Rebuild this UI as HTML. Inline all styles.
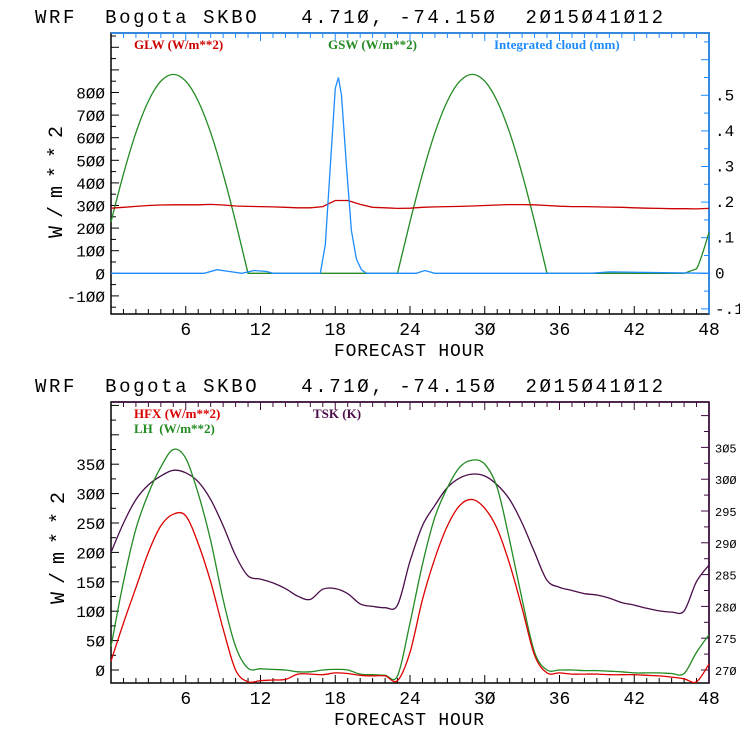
<!DOCTYPE html>
<html><head><meta charset="utf-8">
<style>
html,body{margin:0;padding:0;background:#fff;}
svg{display:block;}
text{font-family:"Liberation Mono",monospace;white-space:pre;}
.leg{font-family:"Liberation Serif",serif;font-weight:bold;font-size:13px;}
</style></head>
<body>
<svg id="chart" width="740" height="740" viewBox="0 0 740 740" xmlns="http://www.w3.org/2000/svg"></svg>
<script>
// ---- Data ----
const hours = [0,1,2,3,4,5,6,7,8,9,10,11,12,13,14,15,16,17,18,19,20,21,22,23,24,25,26,27,28,29,30,31,32,33,34,35,36,37,38,39,40,41,42,43,44,45,46,47,48];
const gsw = [228,440,622,762,850,880,850,762,622,440,228,0,0,0,0,0,0,0,0,0,0,0,0,0,228,440,622,762,850,880,850,762,622,440,228,0,0,0,0,0,0,0,0,0,0,0,0,20,180];
const glw = [288,292,296,300,302,303,303,303,305,302,298,296,295,294,292,290,290,295,322,322,305,292,290,287,288,292,294,295,296,298,300,302,304,304,303,300,297,295,295,294,293,292,290,288,287,286,286,285,287];
const cloudHours = [0,7.5,8.5,9.5,10.5,11.5,12.5,13,16.8,17.2,17.6,18,18.25,18.5,18.9,19.3,19.7,20.1,20.5,24.5,25.2,26,38.5,40,48];
const cloud = [0,0,0.01,0.005,0,0.008,0.005,0,0,0.08,0.3,0.52,0.55,0.5,0.3,0.12,0.04,0.01,0,0,0.008,0,0,0.004,0];
const hfx = [15,80,140,200,245,265,262,215,150,70,0,-20,-18,-17,-16,-7,-7,-8,-5,-6,-9,-10,-10,-18,30,120,190,245,280,290,275,240,180,105,25,-5,-5,-7,-7,-7,-8,-8,-8,-9,-10,-12,-15,-20,10];
const lh = [40,150,240,300,345,375,360,300,220,120,40,3,2,1,0,-3,-3,0,1,0,-7,-8,-9,-10,80,180,260,310,345,357,350,310,220,120,30,0,0,0,-1,-1,-2,-3,-5,-5,-5,-6,-6,30,60];
const tsk = [288.5,293.1,296.8,299.1,300.5,301.4,301,299.6,296.8,292.7,288,284.8,284.3,283.7,282.8,281.6,281.1,282.7,282.8,282,280.4,280,279.8,280.2,287.1,292.7,295.9,298.7,300.2,300.8,300.5,299.1,296.8,293.1,288.5,284.1,283,282.5,282,281.8,281.3,280.6,280.2,279.7,279.3,279.1,279.3,283.9,286.5];
const xTicks = [6,12,18,24,30,36,42,48];
const topLeftTicks = [-100,0,100,200,300,400,500,600,700,800];
const topRightTicks = [-0.1,0,0.1,0.2,0.3,0.4,0.5];
const topRightLabels = ["-.1","0",".1",".2",".3",".4",".5"];
const botLeftTicks = [0,50,100,150,200,250,300,350];
const botRightTicks = [270,275,280,285,290,295,300,305];

const svg = document.getElementById('chart');
const NS = 'http://www.w3.org/2000/svg';
function mk(tag, attrs, parent){const e=document.createElementNS(NS,tag);for(const k in attrs)e.setAttribute(k,attrs[k]);(parent||svg).appendChild(e);return e;}
function txt(s,attrs,parent){const e=mk('text',attrs,parent);e.textContent=s;return e;}

const L=111,R=709;
const xs = h => L + (R-L)*h/48;

function panel(cfg){
  const g = mk('g',{});
  
  
  const t = txt('WRF  Bogota SKBO   4.710, -74.150  2015041012'.replace(/0/g,'Ø'),{x:35,y:cfg.top-10,'font-size':'19px',fill:'#000',textLength:628,lengthAdjust:'spacing'},g);
  
  
  const fr = mk('rect',{x:L,y:cfg.top,width:R-L,height:cfg.bot-cfg.top,fill:'none',stroke:'#000','stroke-width':1.5},g);
  
  
  mk('line',{x1:R,y1:cfg.top,x2:R,y2:cfg.bot,stroke:cfg.rightColor,'stroke-width':1.5},g);
  mk('line',{x1:L,y1:cfg.top,x2:R,y2:cfg.top,stroke:cfg.rightColor,'stroke-width':1.5},g);
  for(let h=1;h<48;h++){
    const big = h%6===0;
    mk('line',{x1:xs(h),y1:cfg.bot,x2:xs(h),y2:cfg.bot-(big?8:5),stroke:'#000'},g);
    mk('line',{x1:xs(h),y1:cfg.top,x2:xs(h),y2:cfg.top+(big?8:5),stroke:cfg.rightColor},g);
  }
  xTicks.forEach(h=>{const e=txt(String(h).replace(/0/g,'Ø'),{x:xs(h),y:cfg.bot+21,'font-size':'18px','text-anchor':'middle'},g);
    });
  const xt=txt('FORECAST HOUR',{x:409,y:cfg.bot+42,'font-size':'18px','text-anchor':'middle',textLength:150,lengthAdjust:'spacing'},g);
  
  const yt=txt('W/m**2',{x:0,y:0,'font-size':'20px','text-anchor':'middle',textLength:112,lengthAdjust:'spacing',transform:`translate(${cfg.ytx},${cfg.ymid}) rotate(-90)`},g);
  
  for(let v=cfg.lMinorStart; cfg.ly(v)>=cfg.top; v+=cfg.lMinor){
    const y=cfg.ly(v); if(y>cfg.bot) continue;
    const big = Math.abs(v % cfg.lMajor)<1e-6;
    mk('line',{x1:L,y1:y,x2:L+(big?8:5),y2:y,stroke:'#000'},g);
  }
  cfg.lTicks.forEach(v=>{const e=txt(String(v).replace(/0/g,'Ø'),{x:L-6,y:cfg.ly(v)+6,'font-size':'16px','text-anchor':'end'},g);
    });
  for(let v=cfg.rMinorStart; cfg.ry(v)>=cfg.top; v+=cfg.rMinor){
    const y=cfg.ry(v); if(y>cfg.bot+0.5) continue;
    const k=Math.round((v-cfg.rMinorStart)/cfg.rMinor);
    mk('line',{x1:R,y1:y,x2:R-(k%2===0?8:5),y2:y,stroke:cfg.rightColor},g);
  }
  cfg.rTicks.forEach((v,i)=>{const e=txt(cfg.rLabels[i],{x:R+6,y:cfg.ry(v)+5,'font-size':cfg.rFont,'text-anchor':'start'},g);
    });
  return g;
}
function line(g, xsArr, ys, yfn, color, name, smooth, clampY){
  const P = xsArr.map((h,i)=>[xs(h), yfn(ys[i])]);
  const cl = y => (clampY!==undefined ? Math.min(y, clampY) : y);
  let d = 'M'+P[0][0].toFixed(1)+','+P[0][1].toFixed(1);
  for(let i=0;i<P.length-1;i++){
    if(!smooth){ d+=' L'+P[i+1][0].toFixed(1)+','+P[i+1][1].toFixed(1); continue; }
    const p0=P[Math.max(0,i-1)],p1=P[i],p2=P[i+1],p3=P[Math.min(P.length-1,i+2)];
    let c1=[p1[0]+(p2[0]-p0[0])/6,cl(p1[1]+(p2[1]-p0[1])/6)];
    let c2=[p2[0]-(p3[0]-p1[0])/6,cl(p2[1]-(p3[1]-p1[1])/6)];
    if(clampY!==undefined && (p1[1]>=clampY-0.01 || p2[1]>=clampY-0.01)){ c1=[p1[0]+(p2[0]-p1[0])/3,p1[1]+(p2[1]-p1[1])/3]; c2=[p2[0]-(p2[0]-p1[0])/3,p2[1]-(p2[1]-p1[1])/3]; }
    d+=' C'+c1[0].toFixed(1)+','+c1[1].toFixed(1)+' '+c2[0].toFixed(1)+','+c2[1].toFixed(1)+' '+p2[0].toFixed(1)+','+p2[1].toFixed(1);
  }
  const p = mk('path',{d:d,fill:'none',stroke:color,'stroke-width':1.3},g);
  
  
}
function legend(g,s,x,y,color,name){const e=txt(s,{x:x,y:y,fill:color,class:'leg'},g);
  }

// Top panel
const tTop=33,tBot=314;
const tly = v => 273.3 - v*0.2260;
const try_ = v => 273.3 - v*356;
const g1 = panel({name:'radiation-panel',top:tTop,bot:tBot,rightColor:'#1e8cff',ly:tly,ry:try_,
  lTicks:topLeftTicks,lMinor:50,lMajor:100,lMinorStart:-150,rTicks:topRightTicks,rLabels:topRightLabels,
  rMinor:0.05,rMinorStart:-0.1,rFont:'16px',ytx:62,ymid:182});
line(g1,hours,gsw,tly,'#228b22','gsw-line',true,tly(0));
line(g1,hours,glw,tly,'#cc0000','glw-line',false);
line(g1,cloudHours,cloud,try_,'#1e8cff','cloud-line',false);
legend(g1,'GLW (W/m**2)',134,49,'#cc0000','legend-glw');
legend(g1,'GSW (W/m**2)',328,49,'#228b22','legend-gsw');
legend(g1,'Integrated cloud (mm)',494,49,'#1e8cff','legend-cloud');

// Bottom panel
const bTop=402,bBot=683;
const bly = v => 670 - v*0.588;
const bry = v => 670 - (v-270)*6.36;
const g2 = panel({name:'flux-panel',top:bTop,bot:bBot,rightColor:'#3d0a3d',ly:bly,ry:bry,
  lTicks:botLeftTicks,lMinor:25,lMajor:50,lMinorStart:0,rTicks:botRightTicks,rLabels:botRightTicks.map(v=>String(v).replace(/0/g,'Ø')),
  rMinor:2.5,rMinorStart:270,rFont:'12px',ytx:64,ymid:548});
line(g2,hours,tsk,bry,'#4b0e4b','tsk-line',true);
line(g2,hours,lh,bly,'#228b22','lh-line',true);
line(g2,hours,hfx,bly,'#dd0000','hfx-line',true);
legend(g2,'HFX (W/m**2)',134,418,'#dd0000','legend-hfx');
legend(g2,'LH  (W/m**2)',134,433,'#228b22','legend-lh');
legend(g2,'TSK (K)',313,418,'#4b0e4b','legend-tsk');
</script>
</body></html>
